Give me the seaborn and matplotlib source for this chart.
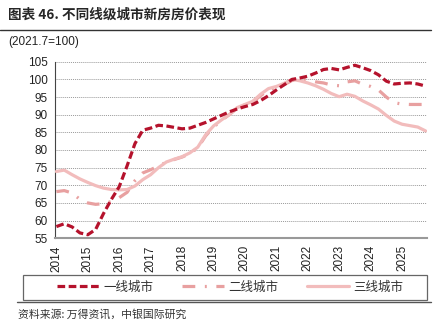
import numpy as np
import pandas as pd
import matplotlib
matplotlib.use("Agg")
import matplotlib.pyplot as plt
import seaborn as sns
from matplotlib.lines import Line2D
from matplotlib.patches import Rectangle

# ---- data (quarterly readings, decimal year) ----
quarters = [2014 + 0.25 * i for i in range(48)]
tier1 = [58.3, 59.1, 58.2, 56.5, 56.0, 57.5, 62.0, 66.0, 69.6, 75.5, 81.8, 85.6,
         86.2, 87.0, 86.8, 86.4, 86.0, 86.2, 87.0, 87.8, 88.8, 89.8, 90.8, 91.6,
         92.3, 92.9, 94.0, 95.4, 97.0, 98.5, 100.0, 100.4, 100.9, 101.8, 102.8, 103.1,
         102.7, 103.4, 104.0, 103.3, 102.5, 101.3, 99.5, 98.7, 98.9, 99.0, 98.7, 98.1]
tier2 = [68.2, 68.5, 67.8, 66.0, 65.0, 64.6, 64.8, 65.4, 66.5, 68.0, 71.3, 73.5,
         74.4, 75.5, 76.5, 77.3, 78.0, 79.0, 80.6, 84.0, 86.5, 88.3, 90.0, 91.8,
         92.8, 93.6, 95.4, 97.0, 97.7, 98.5, 99.7, 100.0, 99.8, 99.3, 99.0, 98.4,
         98.2, 99.3, 99.6, 98.6, 98.0, 97.0, 95.0, 93.4, 93.0, 92.9, 92.9, 92.9]
tier3 = [73.9, 74.3, 73.0, 71.8, 70.8, 69.9, 69.2, 68.8, 68.7, 68.8, 69.8, 71.6,
         73.0, 75.0, 76.6, 77.4, 78.1, 79.2, 80.8, 84.3, 86.8, 88.5, 90.0, 92.0,
         92.9, 93.8, 95.8, 97.4, 98.0, 98.9, 100.0, 99.6, 99.0, 98.2, 97.2, 96.0,
         95.1, 95.8, 95.2, 93.9, 92.8, 91.6, 89.8, 88.2, 87.3, 86.9, 86.5, 85.4]
series_names = ["一线城市", "二线城市", "三线城市"]
year_ticks = list(range(2014, 2026))
y_ticks = list(range(55, 106, 5))

title = "图表 46. 不同线级城市新房房价表现"
unit_label = "(2021.7=100)"
source = "资料来源: 万得资讯，中银国际研究"

sns.set_theme(style="white")
plt.rcParams["font.family"] = ["Liberation Sans", "Noto Sans CJK SC", "DejaVu Sans"]

fig = plt.figure(figsize=(4.35, 3.25), dpi=100)
ax = fig.add_axes([0.126, 0.267, 0.856, 0.543])

c1, c2, c3 = "#B5122C", "#E8A0A0", "#F2BCBC"
lw = 2.3
d1 = [2.4, 1.1]
d2 = [4, 3, 0.6, 3]

sns.lineplot(x=quarters, y=tier3, ax=ax, color=c3, linewidth=lw, zorder=3)
sns.lineplot(x=quarters, y=tier2, ax=ax, color=c2, linewidth=lw, zorder=2)
ax.lines[-1].set_dashes(d2)
sns.lineplot(x=quarters, y=tier1, ax=ax, color=c1, linewidth=lw, zorder=4)
ax.lines[-1].set_dashes(d1)

ax.set_xlim(2013.95, 2025.8)
ax.set_ylim(55, 105)
ax.set_yticks(y_ticks)
ax.set_xticks(year_ticks)
ax.set_xticklabels([str(y) for y in year_ticks], rotation=90)
ax.tick_params(axis="both", labelsize=8.5, colors="#222222", length=3, width=0.8,
               direction="out", pad=2)
ax.tick_params(axis="x", colors="#888888", labelcolor="#222222")
ax.grid(axis="y", color="#9a9a9a", linewidth=0.7, linestyle=(0, (1, 1)))
for s in ["top", "right"]:
    ax.spines[s].set_visible(False)
ax.spines["left"].set_color("#444444")
ax.spines["left"].set_linewidth(0.8)
ax.spines["bottom"].set_color("#999999")
ax.spines["bottom"].set_linewidth(1.5)
ax.set_xlabel("")
ax.set_ylabel("")

# title and header
fig.text(0.018, 0.955, title, fontsize=9.8, fontweight="bold",
         family=["Noto Sans CJK SC", "DejaVu Sans"], va="center", ha="left")
fig.add_artist(Line2D([0.0, 0.99], [0.908, 0.908], color="#333333", linewidth=1.0))
fig.text(0.018, 0.872, unit_label, fontsize=8.5, va="center", ha="left", color="#222222")

# legend frame and legend
fig.add_artist(Rectangle((0.053, 0.078), 0.929, 0.076, transform=fig.transFigure,
                         fill=False, edgecolor="#666666", linewidth=0.9))
handles = [
    Line2D([], [], color=c1, linewidth=lw, dashes=d1),
    Line2D([], [], color=c2, linewidth=lw, dashes=d2),
    Line2D([], [], color=c3, linewidth=lw),
]
leg = fig.legend(handles, series_names, loc="center", ncol=3,
                 bbox_to_anchor=(0.53, 0.116), frameon=False,
                 handlelength=3.3, handletextpad=0.4, columnspacing=2.3,
                 prop={"family": ["Noto Sans CJK SC"], "size": 9})
for t in leg.get_texts():
    t.set_color("#333333")

fig.add_artist(Line2D([0.04, 0.99], [0.071, 0.071], color="#555555", linewidth=1.0))
fig.text(0.042, 0.033, source, fontsize=7.8, style="italic", color="#333333",
         family=["Noto Sans CJK SC", "DejaVu Sans"], va="center", ha="left")

fig.savefig("out.png", dpi=100)
